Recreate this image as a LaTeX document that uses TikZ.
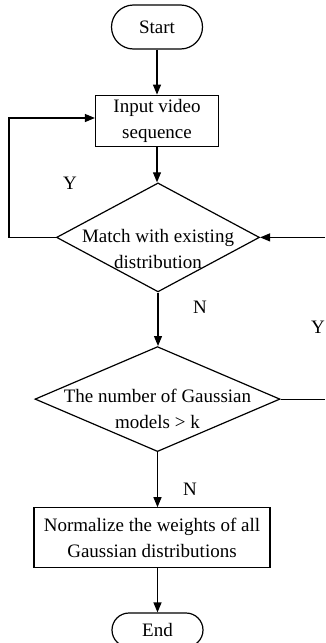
\documentclass[tikz,border=0pt]{standalone}
\usepackage{fontspec}
\setmainfont{Liberation Serif}
\usetikzlibrary{arrows.meta,positioning,shapes.geometric}

\begin{document}
\begin{tikzpicture}[
  x=1pt, y=1pt,
  font=\fontsize{19}{26}\selectfont,
  line width=1.2pt,
  term/.style={draw, minimum width=91pt, inner sep=0pt},
  box/.style={draw, align=center, inner sep=0pt},
  decision/.style={draw, diamond, inner sep=0pt},
  dtext/.style={align=center, inner sep=0pt},
  arrow/.style={-{Triangle[length=10pt,width=8pt]}}
]
\useasboundingbox (0,0) rectangle (325,-643);
\node[term, minimum height=44pt, rounded corners=22pt] (start) at (157,-27) {Start};
\node[box, minimum width=123pt, minimum height=51pt, below=45pt of start] (input)
  {Input video\\sequence};
\node[decision, minimum width=203pt, minimum height=109pt,
  below=35.5pt of input, xshift=1pt] (match) {};
\node[dtext] (matchtxt) at ([yshift=-12pt]match.center)
  {Match with existing\\distribution};
\node[decision, minimum width=245pt, minimum height=105pt,
  below=53.5pt of match, xshift=-0.5pt] (number) {};
\node[dtext] (numbertxt) at ([yshift=-10pt]number.center)
  {The number of Gaussian\\models > k};
\node[box, minimum width=236pt, minimum height=60pt,
  below=55pt of number, xshift=-5.5pt] (norm)
  {Normalize the weights of all\\Gaussian distributions};
\node[term, minimum height=34pt, rounded corners=17pt,
  below=44pt of norm, xshift=5.5pt] (end) {End};
% loop back and the cut-off branch on the right
\coordinate (loop) at (9,-118);
\coordinate (edge) at (325,0);
\node (ytop) at (70,-183) {Y};
\node (nmid) at (200,-307) {N};
\node (yright) at (318,-327) {Y};
\node (nlow) at (190,-489) {N};
\draw[arrow] (start) -- (input);
\draw[arrow] (input) -- (input |- match.north);
\draw[arrow] (match.west) -| (loop) -- (loop -| input.west);
\draw[arrow] (match.east -| edge) -- (match.east);
\draw[arrow] (match.south) -- (match.south |- number.north);
\draw (number.east) -- (number.east -| edge);
\draw[arrow] (number.south) -- (number.south |- norm.north);
\draw[arrow] (end.north |- norm.south) -- (end.north);
\end{tikzpicture}
\end{document}
